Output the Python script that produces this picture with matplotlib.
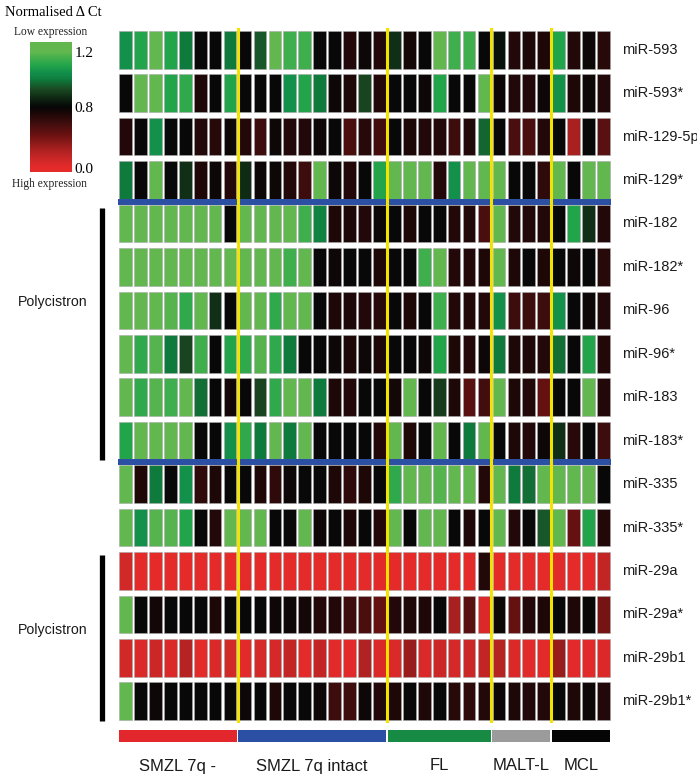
import numpy as np
import matplotlib
matplotlib.use('Agg')
import matplotlib.pyplot as plt
from matplotlib.colors import LinearSegmentedColormap, TwoSlopeNorm
from matplotlib.cm import ScalarMappable

# normalised delta Ct per sample (33 samples), one list per miRNA
mir_593 = [1.05, 1.1, 1.2, 1.1, 1.0, 0.8, 0.8, 1.0,
           0.8, 0.95, 1.2, 1.15, 1.15, 0.8, 0.8, 0.7, 0.78, 0.7,
           0.88, 0.75, 0.8, 1.2, 1.15, 1.15, 0.8,
           0.82, 0.7, 0.72, 0.72,
           1.1, 0.7, 0.78, 0.68]
mir_593s = [0.8, 1.2, 1.2, 1.1, 1.12, 0.72, 0.8, 1.1,
            0.8, 0.8, 0.8, 1.05, 1.1, 1.0, 0.78, 0.72, 0.92, 0.7,
            0.8, 0.8, 0.78, 1.1, 0.8, 0.8, 1.2,
            0.78, 0.7, 0.7, 0.78,
            1.05, 0.72, 0.78, 0.7]
mir_129_5p = [0.7, 0.8, 1.05, 0.8, 0.8, 0.7, 0.68, 0.78,
              0.7, 0.6, 0.78, 0.7, 0.7, 0.78, 0.8, 0.55, 0.68, 0.58,
              0.8, 0.72, 0.7, 0.7, 0.6, 0.7, 0.97,
              0.8, 0.55, 0.55, 0.7,
              0.8, 0.25, 0.8, 0.5]
mir_129s = [1.0, 0.8, 1.2, 0.8, 0.88, 0.72, 0.78, 0.7,
            0.87, 0.78, 0.78, 0.7, 0.6, 1.2, 0.78, 0.7, 0.8, 1.1,
            1.2, 1.2, 1.2, 0.7, 1.05, 1.2, 1.2,
            1.2, 0.8, 0.8, 0.65,
            1.2, 0.8, 1.2, 1.2]
mir_182 = [1.2, 1.2, 1.2, 1.2, 1.2, 1.2, 1.2, 0.8,
           1.2, 1.2, 1.2, 1.2, 1.15, 1.02, 0.72, 0.72, 0.7, 0.78,
           0.8, 0.72, 0.8, 0.8, 0.7, 0.7, 0.55,
           1.2, 0.7, 0.7, 0.7,
           0.8, 1.1, 0.88, 0.7]
mir_182s = [1.2, 1.2, 1.2, 1.2, 1.2, 1.2, 1.2, 1.2,
            1.2, 1.2, 1.2, 1.15, 1.2, 0.8, 0.78, 0.8, 0.8, 0.72,
            0.8, 0.8, 1.15, 1.2, 0.7, 0.7, 0.72,
            1.2, 0.72, 0.8, 0.72,
            0.8, 0.78, 0.8, 0.68]
mir_96 = [1.2, 1.2, 1.2, 1.18, 1.12, 1.2, 0.88, 0.8,
          1.2, 1.2, 1.12, 1.2, 1.2, 0.8, 0.72, 0.72, 0.7, 0.68,
          0.8, 0.72, 0.8, 1.15, 0.7, 0.7, 0.7,
          1.05, 0.6, 0.6, 0.6,
          1.05, 0.8, 0.78, 0.7]
mir_96s = [1.2, 1.12, 1.18, 1.0, 0.92, 1.15, 0.8, 1.1,
           1.12, 1.18, 1.12, 1.0, 0.8, 0.8, 0.78, 0.72, 0.78, 0.72,
           0.8, 0.8, 0.78, 1.1, 0.72, 0.7, 0.78,
           1.0, 0.72, 0.72, 0.7,
           0.98, 0.8, 1.1, 0.7]
mir_183 = [1.2, 1.12, 1.18, 1.15, 1.2, 0.98, 0.8, 0.75,
           0.8, 0.92, 1.12, 1.2, 1.2, 1.0, 0.72, 0.7, 0.8, 0.8,
           0.75, 1.2, 0.8, 0.9, 0.72, 0.5, 0.58,
           1.2, 0.72, 0.7, 0.45,
           0.8, 0.8, 1.2, 0.7]
mir_183s = [1.1, 1.2, 1.2, 1.2, 1.2, 0.8, 0.8, 1.05,
            1.12, 1.0, 1.2, 1.0, 1.2, 0.8, 0.8, 0.8, 0.8, 0.7,
            1.2, 0.72, 0.8, 1.2, 0.8, 1.0, 1.2,
            0.8, 0.72, 0.7, 0.78,
            0.88, 0.68, 0.8, 0.6]
mir_335 = [1.2, 0.72, 1.0, 0.8, 1.05, 0.65, 0.72, 0.8,
           0.8, 0.72, 0.65, 0.78, 0.8, 0.8, 0.72, 0.65, 0.72, 0.8,
           1.12, 1.2, 1.2, 1.18, 1.2, 1.2, 0.7,
           1.2, 1.0, 0.98, 1.2,
           1.2, 1.2, 1.2, 0.8]
mir_335s = [1.2, 1.05, 1.18, 1.18, 1.1, 0.8, 0.7, 1.2,
            1.2, 1.2, 0.8, 0.8, 1.2, 0.78, 0.8, 0.72, 0.8, 0.7,
            1.2, 0.8, 1.2, 1.2, 0.8, 0.72, 0.8,
            1.2, 0.7, 0.8, 0.95,
            1.2, 0.45, 1.1, 0.7]
mir_29a = [0.1, 0.0, 0.0, 0.0, 0.0, 0.0, 0.0, 0.0,
           0.0, 0.0, 0.0, 0.0, 0.0, 0.0, 0.0, 0.0, 0.0, 0.02,
           0.0, 0.0, 0.0, 0.0, 0.0, 0.0, 0.7,
           0.0, 0.0, 0.0, 0.0,
           0.02, 0.0, 0.0, 0.15]
mir_29as = [1.2, 0.8, 0.75, 0.8, 0.8, 0.8, 0.72, 0.8,
            0.8, 0.8, 0.78, 0.78, 0.75, 0.7, 0.7, 0.6, 0.55, 0.45,
            0.7, 0.72, 0.72, 0.8, 0.25, 0.5, 0.05,
            0.78, 0.45, 0.7, 0.72,
            0.8, 0.72, 0.8, 0.4]
mir_29b1 = [0.1, 0.05, 0.12, 0.05, 0.2, 0.0, 0.05, 0.1,
            0.02, 0.08, 0.08, 0.15, 0.0, 0.15, 0.02, 0.02, 0.22, 0.05,
            0.05, 0.3, 0.05, 0.12, 0.08, 0.12, 0.15,
            0.2, 0.05, 0.02, 0.02,
            0.3, 0.02, 0.02, 0.05]
mir_29b1s = [1.2, 0.8, 0.78, 0.8, 0.8, 0.8, 0.8, 0.8,
             0.78, 0.8, 0.72, 0.8, 0.8, 0.78, 0.6, 0.6, 0.78, 0.7,
             0.72, 0.8, 0.72, 0.8, 0.68, 0.65, 0.7,
             0.78, 0.72, 0.7, 0.7,
             0.8, 0.72, 0.78, 0.7]

row_labels = ['miR-593', 'miR-593*', 'miR-129-5p', 'miR-129*', 'miR-182', 'miR-182*',
              'miR-96', 'miR-96*', 'miR-183', 'miR-183*', 'miR-335', 'miR-335*',
              'miR-29a', 'miR-29a*', 'miR-29b1', 'miR-29b1*']
rows = [mir_593, mir_593s, mir_129_5p, mir_129s, mir_182, mir_182s, mir_96, mir_96s,
        mir_183, mir_183s, mir_335, mir_335s, mir_29a, mir_29as, mir_29b1, mir_29b1s]

groups = ['SMZL 7q -', 'SMZL 7q intact', 'FL', 'MALT-L', 'MCL']
group_sizes = [8, 10, 7, 4, 4]
group_colors = ['#e2282c', '#2b4fa3', '#178a44', '#9b9b9b', '#050505']
blue_after = [4, 10]                         # blue separators above these rows
polycistrons = [(4, 10, 6.3), (12, 16, 13.85)]  # row range + label row

# colour anchors given in delta Ct units
norm = TwoSlopeNorm(vmin=-0.05, vcenter=0.8, vmax=1.27)
anchor_vals = [-0.05, 0.0, 0.1, 0.25, 0.42, 0.55, 0.65, 0.72, 0.8,
               0.87, 0.93, 1.0, 1.05, 1.1, 1.15, 1.2, 1.27]
anchor_cols = ['#e52a2a', '#e52a2a', '#d02828', '#a82020', '#6e1212', '#4a0e0e',
               '#2e0a0a', '#1c0707', '#070707', '#0f2a14', '#1a4a22', '#0e7a3c',
               '#12904a', '#22a44b', '#3eae4c', '#62b84e', '#62b84e']
cmap = LinearSegmentedColormap.from_list(
    'gkr', list(zip([float(norm(v)) for v in anchor_vals], anchor_cols)))

W, H = 697, 780
def px(l, t, r, b):
    return [l / W, 1 - b / H, (r - l) / W, (b - t) / H]

fig = plt.figure(figsize=(W / 100, H / 100), dpi=100)
sans = ['Liberation Sans', 'DejaVu Sans']
serif = ['Liberation Serif', 'DejaVu Serif']

# heatmap
ax = fig.add_axes(px(118, 28, 611, 723))
ncol = sum(group_sizes)
x = np.arange(ncol)
for i, vals in enumerate(rows):
    ax.bar(x, 0.865, bottom=i + 0.0675, width=0.85, color=cmap(norm(np.array(vals))),
           edgecolor='#a8a8a8', linewidth=0.4)
    ax.text(33.23, i + 0.5, row_labels[i], ha='left', va='center', fontsize=10.5,
            family=sans, color='#1a1a1a', clip_on=False)
ax.set_xlim(-0.5, ncol - 0.5)
ax.set_ylim(len(rows), 0)
ax.axis('off')

for r in blue_after:
    ax.axhline(r, color='#2b4fa3', lw=4.3, zorder=3)
bounds = np.cumsum(group_sizes)[:-1] - 0.5
for b in bounds:
    ax.axvline(b, color='#f2e400', lw=2.2, zorder=5)

for (a, b, ty) in polycistrons:
    ax.plot([-1.6, -1.6], [a + 0.14, b - 0.05], color='black', lw=3.8,
            solid_capstyle='butt', clip_on=False)
    ax.text(-4.9, ty, 'Polycistron', ha='center', va='center',
            fontsize=10.2, family=sans, color='#1a1a1a', clip_on=False)

# group bar
gax = fig.add_axes(px(118, 730, 611, 742))
starts = np.concatenate([[0], np.cumsum(group_sizes)[:-1]])
centers = starts + np.array(group_sizes) / 2 - 0.5
gax.bar(centers, 1, width=np.array(group_sizes) - 0.12, color=group_colors)
gax.set_xlim(-0.5, ncol - 0.5)
gax.set_ylim(0, 1)
gax.axis('off')
for c, g in zip(centers, groups):
    gax.text(c, -2.0, g, ha='center', va='center', fontsize=12, family=sans,
             color='#1a1a1a', clip_on=False)

# colour scale
cax = fig.add_axes(px(30, 42, 72, 172))
cb = fig.colorbar(ScalarMappable(norm=norm, cmap=cmap), cax=cax, ticks=[0.0, 0.8, 1.2])
cb.outline.set_visible(False)
cb.ax.tick_params(length=0, pad=2)
cb.ax.set_yticklabels(['0.0', '0.8', '1.2'], family=serif, fontsize=11)
fig.text(5 / W, 1 - 12 / H, 'Normalised \u0394 Ct', ha='left', va='center',
         fontsize=10.5, family=serif)
fig.text(51 / W, 1 - 32 / H, 'Low expression', ha='center', va='center',
         fontsize=8.3, family=serif, color='#222222')
fig.text(50 / W, 1 - 184 / H, 'High expression', ha='center', va='center',
         fontsize=8.3, family=serif, color='#222222')

fig.savefig('out.png', dpi=100)
